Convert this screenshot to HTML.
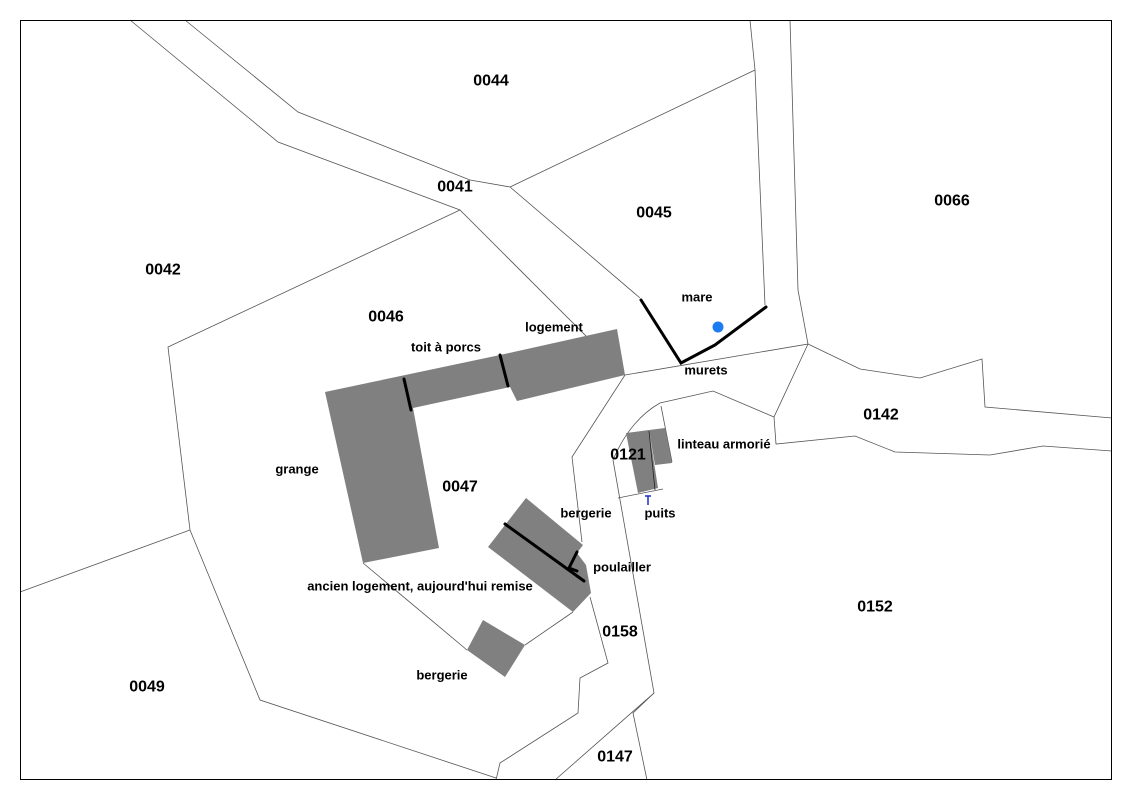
<!DOCTYPE html>
<html><head><meta charset="utf-8"><style>html,body{margin:0;padding:0;background:#fff}svg{display:block}</style></head><body>
<svg width="1132" height="800" viewBox="0 0 1132 800" xmlns="http://www.w3.org/2000/svg">
<rect x="0" y="0" width="1132" height="800" fill="#fff"/>
<g fill="none" stroke="#555" stroke-width="0.8">
<polyline points="185,20 298,112 470,180 510,187 640,298"/>
<polyline points="130,20 278,142 460,210 625,375"/>
<polyline points="460,210 168,347 190,530 20,592"/>
<polyline points="510,187 755,70"/>
<polyline points="750,20 755,70 765,305"/>
<polyline points="790,20 798,290 808,344 625,375"/>
<polyline points="808,344 860,369 920,378 982,359 985,407 1112,418"/>
<polyline points="808,344 774,417 776,444 855,436 895,452 990,455 1043,446 1112,451"/>
<path d="M774,417 L713,391 L660,403 Q630,420 613,460 L654,693 L633,713 L647,780"/>
<polyline points="654,693 555,780"/>
<polyline points="661,406 672,462"/>
<polyline points="618,498 663,489"/>
<polyline points="625,375 572,457 582,542"/>
<polyline points="590,597 608,663 580,678 578,713 500,763 496,780"/>
<polyline points="190,530 260,700 496,778"/>
<polyline points="363,563 467,650"/>
<polyline points="525,645 573,612"/>
</g>
<g fill="#808080" stroke="none">
<polygon points="325,392 500,355 617,329 625,375 517,401 510,387 413,408 439,548 363,563"/>
<polygon points="488,547 526,498 583,545 577,553 586,565 591,593 573,612"/>
<polygon points="467,650 483,620 525,645 505,677"/>
<polygon points="626,433 649,430 658,488 638,493"/>
<polygon points="649,430 665,428 672,463 655,465"/>
</g>
<g fill="none" stroke="#000" stroke-width="3" stroke-linecap="round">
<line x1="404" y1="379" x2="411" y2="410"/>
<line x1="500" y1="355" x2="508" y2="386"/>
<line x1="505" y1="524" x2="584" y2="581"/>
<polyline points="577,552 569,568 577,571"/>
<polyline points="641,300 681,363 715,345 766,307"/>
</g>
<line x1="649" y1="431" x2="655" y2="490" stroke="#222" stroke-width="0.8"/>
<circle cx="718" cy="327" r="5.5" fill="#1a7cf0"/>
<g stroke="#1a2cc0" stroke-width="1.5"><line x1="648" y1="496" x2="648" y2="505"/><line x1="645" y1="496" x2="651" y2="496"/></g>
<rect x="20.5" y="20.5" width="1091" height="759" fill="none" stroke="#000" stroke-width="1"/>
<g font-family="Liberation Sans, sans-serif" font-weight="bold" text-anchor="middle" dominant-baseline="central" fill="#000">
<g font-size="16">
<text x="491" y="81">0044</text><text x="455" y="187">0041</text><text x="654" y="213">0045</text>
<text x="952" y="201">0066</text><text x="163" y="270">0042</text><text x="386" y="317">0046</text>
<text x="881" y="415">0142</text><text x="628" y="455">0121</text><text x="460" y="487">0047</text>
<text x="620" y="632">0158</text><text x="875" y="607">0152</text><text x="147" y="687">0049</text>
<text x="615" y="757">0147</text>
</g>
<g font-size="13">
<text x="554" y="327">logement</text><text x="446" y="347">toit à porcs</text>
<text x="697" y="297">mare</text><text x="706" y="370">murets</text>
<text x="724" y="444">linteau armorié</text><text x="297" y="469">grange</text>
<text x="586" y="513">bergerie</text><text x="660" y="513">puits</text>
<text x="622" y="567">poulailler</text><text x="420" y="586">ancien logement, aujourd'hui remise</text>
<text x="442" y="675">bergerie</text>
</g>
</g>
</svg>
</body></html>
